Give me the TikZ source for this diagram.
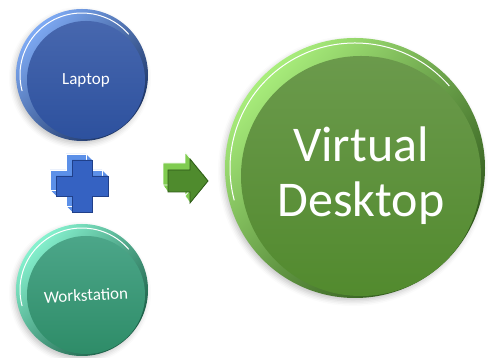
\documentclass[tikz,border=0pt]{standalone}
\usepackage{fontspec}
\setmainfont{Carlito}
\usetikzlibrary{shadows.blur}

% colours of the three discs
\definecolor{laprim}{HTML}{7EAAF4}
\definecolor{laprimdark}{HTML}{1B3262}
\definecolor{laptop}{HTML}{4767AE}
\definecolor{lapbottom}{HTML}{2D519E}
\definecolor{wsrim}{HTML}{86F2CF}
\definecolor{wsrimdark}{HTML}{1A5C44}
\definecolor{wstop}{HTML}{4CA689}
\definecolor{wsbottom}{HTML}{2E8C68}
\definecolor{vdrim}{HTML}{A9EE7C}
\definecolor{vdrimdark}{HTML}{2C5418}
\definecolor{vdtop}{HTML}{6B9A4C}
\definecolor{vdbottom}{HTML}{528A2E}
% plus and arrow
\definecolor{plusside}{HTML}{5C90E8}
\definecolor{plusface}{HTML}{3562C2}
\definecolor{plusedge}{HTML}{20408A}
\definecolor{arrowside}{HTML}{80CC50}
\definecolor{arrowface}{HTML}{4F8B2D}
\definecolor{arrowedge}{HTML}{2E5A18}

\newcommand{\crosspath}{(-10,26) -- (10,26) -- (10,10) -- (26,10) -- (26,-10)
  -- (10,-10) -- (10,-26) -- (-10,-26) -- (-10,-10) -- (-26,-10) -- (-26,10)
  -- (-10,10) -- cycle}
\newcommand{\blockarrowpath}{(-20,11) -- (2,11) -- (2,22) -- (20,0) -- (2,-22)
  -- (2,-11) -- (-20,-11) -- cycle}

\begin{document}
\begin{tikzpicture}[x=1pt,y=1pt,
  rim/.style={blur shadow={shadow xshift=-2pt,shadow yshift=-3pt,
      shadow blur radius=5pt,shadow opacity=22}},
  face/.style={circle,draw=none,inner sep=0pt,text=white,align=center},
  gleam/.style={draw=white,line width=1pt}]

  \useasboundingbox (0,0) rectangle (490,358);

  % rims
  \coordinate (lapc) at (82,283);
  \coordinate (wsc)  at (82,68);
  \coordinate (vdc)  at (355,190);

  \shade[rim,top color=laprim,bottom color=laprimdark,shading angle=45]
    (lapc) circle (66);
  \shade[rim,top color=wsrim,bottom color=wsrimdark,shading angle=45]
    (wsc) circle (66);
  \shade[rim,top color=vdrim,bottom color=vdrimdark,shading angle=45]
    (vdc) circle (130);

  % white gleam lines
  \draw[gleam] ([shift={(41:62)}]lapc) arc[start angle=41,end angle=195,radius=62];
  \draw[gleam] ([shift={(41:62)}]wsc) arc[start angle=41,end angle=195,radius=62];
  \draw[gleam] ([shift={(41:125)}]vdc) arc[start angle=41,end angle=195,radius=125];

  % faces
  \node[face,minimum size=118,top color=laptop,bottom color=lapbottom,
    font=\fontsize{17}{20}\selectfont]
    (laptop) at ([shift={(4,-5)}]lapc) {Laptop};
  \node[face,minimum size=118,top color=wstop,bottom color=wsbottom,
    font=\fontsize{17}{20}\selectfont]
    (workstation) at ([shift={(4,-5)}]wsc) {\rotatebox{3}{Workstation}};
  \node[face,minimum size=240,top color=vdtop,bottom color=vdbottom,
    font=\fontsize{50}{55}\selectfont]
    (desktop) at ([shift={(6,-8)}]vdc) {Virtual\\Desktop};

  % plus
  \foreach \s in {0,0.5,...,6}
    \fill[plusside,shift={(76+\s,178-\s)}] \crosspath;
  \draw[white,line width=0.8pt,shift={(76,178)}] \crosspath;
  \filldraw[fill=plusface,draw=plusedge,line width=0.8pt,shift={(82,172)}] \crosspath;

  % arrow
  \foreach \s in {0,0.5,...,5}
    \fill[arrowside,shift={(183+\s,184-\s*1.4)}] \blockarrowpath;
  \draw[white,line width=0.8pt,shift={(183,184)}] \blockarrowpath;
  \filldraw[fill=arrowface,draw=arrowedge,line width=0.8pt,shift={(188,177)}] \blockarrowpath;
\end{tikzpicture}
\end{document}
